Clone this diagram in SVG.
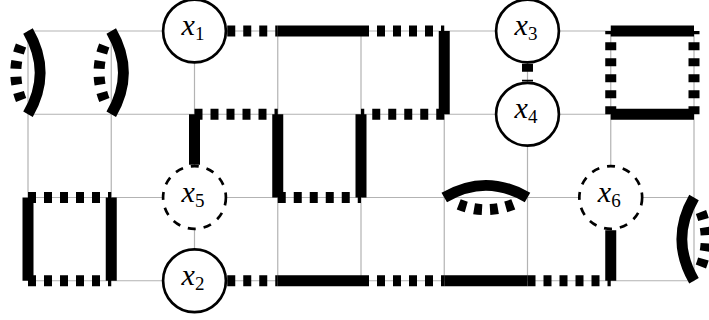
<svg xmlns="http://www.w3.org/2000/svg" width="709" height="320" viewBox="0 0 709 320">
<style>
.grid{stroke:#b3b3b3;stroke-width:1.2;fill:none}
.s{stroke:#000;stroke-width:11;fill:none;stroke-linecap:butt}
.d{stroke:#000;stroke-width:11;fill:none;stroke-linecap:butt;stroke-dasharray:8 8}
.da{stroke:#000;stroke-width:11;fill:none;stroke-linecap:butt;stroke-dasharray:0 16 8 8 8 8 8 8 8 300}
.n{fill:#fff;stroke:#000;stroke-width:2.67}
.nd{fill:#fff;stroke:#000;stroke-width:2.67;stroke-dasharray:8 8}
</style>
<g id="grid" class="grid">
<path d="M28 31V280.75M111.25 31V280.75M194.5 31V280.75M277.75 31V280.75M361 31V280.75M444.25 31V280.75M527.5 31V280.75M610.75 31V280.75M694 31V280.75"/>
<path d="M28 31H694M28 114.25H694M28 197.5H694M28 280.75H694"/>
</g>
<g id="connectors">
<path class="s" d="M277.75 31H361M610.75 31H694M610.75 114.25H694M277.75 280.75H361M444.25 280.75H527.5"/>
<path class="s" d="M28 197.5V280.75M111.25 197.5V280.75M194.5 114.25V164.75M277.75 114.25V197.5M361 114.25V197.5M444.25 31V114.25M610.75 230.25V280.75"/>
<path class="d" d="M227.25 31H277.75"/>
<path class="d" d="M361 31H444.25"/>
<path class="d" d="M194.5 114.25H277.75"/>
<path class="d" d="M444.25 114.25H361"/>
<path class="d" d="M28 197.5H111.25"/>
<path class="d" d="M277.75 197.5H361"/>
<path class="d" d="M28 280.75H111.25"/>
<path class="d" d="M227.25 280.75H277.75"/>
<path class="d" d="M361 280.75H444.25"/>
<path class="d" d="M527.5 280.75H610.75"/>
<path class="d" d="M527.5 63.75V81.5"/>
<path class="d" d="M610.75 114.25V31"/>
<path class="d" d="M694 114.25V31"/>
<path class="s" d="M28 31C44.3 59.22 44.3 86.03 28 114.25"/>
<path class="s" d="M111.25 31C127.55 59.22 127.55 86.03 111.25 114.25"/>
<path class="s" d="M444.25 197.5C472.47 181.2 499.28 181.2 527.5 197.5"/>
<path class="s" d="M694 197.5C677.7 225.72 677.7 252.53 694 280.75"/>
<path class="da" d="M28 31C11.7 59.22 11.7 86.03 28 114.25"/>
<path class="da" d="M111.25 31C94.95 59.22 94.95 86.03 111.25 114.25"/>
<path class="da" d="M444.25 197.5C472.47 213.8 499.28 213.8 527.5 197.5"/>
<path class="da" d="M694 197.5C710.3 225.72 710.3 252.53 694 280.75"/>
</g>
<g id="x1"><circle class="n" cx="194.5" cy="31" r="31.4"/><text x="193" y="35" font-family="Liberation Serif, serif" text-anchor="middle"><tspan font-size="30" font-style="italic">x</tspan><tspan font-size="19" dy="5">1</tspan></text></g>
<g id="x2"><circle class="n" cx="194.5" cy="280.75" r="31.4"/><text x="193" y="284.75" font-family="Liberation Serif, serif" text-anchor="middle"><tspan font-size="30" font-style="italic">x</tspan><tspan font-size="19" dy="5">2</tspan></text></g>
<g id="x3"><circle class="n" cx="527.5" cy="31" r="31.4"/><text x="526" y="35" font-family="Liberation Serif, serif" text-anchor="middle"><tspan font-size="30" font-style="italic">x</tspan><tspan font-size="19" dy="5">3</tspan></text></g>
<g id="x4"><circle class="n" cx="527.5" cy="114.25" r="31.4"/><text x="526" y="118.25" font-family="Liberation Serif, serif" text-anchor="middle"><tspan font-size="30" font-style="italic">x</tspan><tspan font-size="19" dy="5">4</tspan></text></g>
<g id="x5"><circle class="nd" cx="194.5" cy="197.5" r="31.4"/><text x="193" y="201.5" font-family="Liberation Serif, serif" text-anchor="middle"><tspan font-size="30" font-style="italic">x</tspan><tspan font-size="19" dy="5">5</tspan></text></g>
<g id="x6"><circle class="nd" cx="610.75" cy="197.5" r="31.4"/><text x="609.25" y="201.5" font-family="Liberation Serif, serif" text-anchor="middle"><tspan font-size="30" font-style="italic">x</tspan><tspan font-size="19" dy="5">6</tspan></text></g>
</svg>
